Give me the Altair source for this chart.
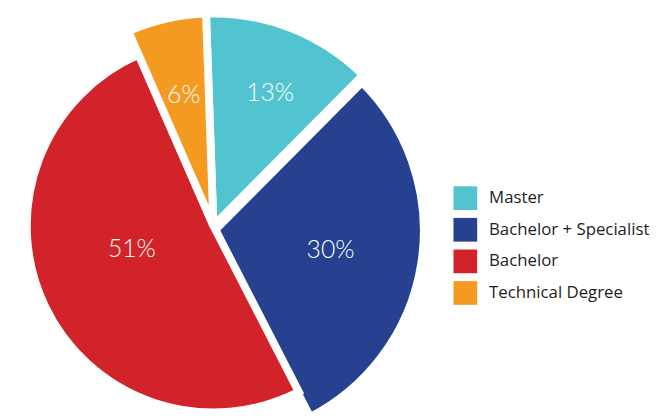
import altair as alt
import pandas as pd
import math

# ---- data ----
categories = ["Master", "Bachelor + Specialist", "Bachelor", "Technical Degree"]
shares = [13, 30, 51, 6]

# ---- style ----
colors = ["#52C4CF", "#26418F", "#D2232B", "#F49A20"]
gap = 8
slice_radius = {"Master": 215, "Bachelor + Specialist": 212, "Bachelor": 189, "Technical Degree": 215}
slice_shift = {"Master": (0, 0), "Bachelor + Specialist": (1, 5), "Bachelor": (0, 0), "Technical Degree": (0, 0)}
label_radius = {"Master": 146, "Bachelor + Specialist": 121, "Bachelor": 86, "Technical Degree": 136}
label_turn = {"Master": 0.03, "Bachelor + Specialist": 0.05, "Bachelor": 0.16, "Technical Degree": 0.0}
rot = -0.035

df = pd.DataFrame({"category": categories, "value": shares})

theta_scale = alt.Scale(domain=[0, 100], range=[rot, rot + 2 * math.pi])
color_scale = alt.Scale(domain=categories, range=colors)

legend = alt.Legend(
    title=None,
    orient="none",
    legendX=451,
    legendY=148,
    symbolType="square",
    symbolSize=576,
    symbolStrokeWidth=0,
    symbolOpacity=1,
    labelFont="Open Sans",
    labelFontSize=17,
    labelColor="#1d1d1b",
    labelOffset=12,
    rowPadding=8,
    labelLimit=300,
    padding=0,
)

base = alt.Chart(df).transform_window(
    cum="sum(value)", frame=[None, 0]
).transform_calculate(
    start="datum.cum - datum.value",
    mid="datum.cum - datum.value / 2",
    label="format(datum.value, 'd') + '%'",
)

layers = []
for cat in categories:
    sx, sy = slice_shift[cat]
    a = base.transform_filter(alt.datum.category == cat).mark_arc(
        radius=slice_radius[cat], stroke="white", strokeWidth=gap,
        xOffset=sx, yOffset=sy,
    ).encode(
        theta=alt.Theta("start:Q", scale=theta_scale),
        theta2="cum:Q",
        color=alt.Color("category:N", scale=color_scale, legend=legend),
    )
    layers.append(a)

for cat in categories:
    t = base.transform_filter(alt.datum.category == cat).mark_text(
        radius=label_radius[cat],
        thetaOffset=label_turn[cat],
        font="Lato",
        fontWeight=300,
        fontSize=25,
        color="white",
        align="center",
        baseline="middle",
    ).encode(
        theta=alt.Theta("mid:Q", scale=theta_scale),
        text="label:N",
    )
    layers.append(t)

chart = alt.layer(*layers).properties(
    width=416,
    height=376,
    autosize=alt.AutoSizeParams(type="none"),
    padding={"left": 0, "top": 30, "right": 237, "bottom": 0},
).configure_view(stroke=None)

chart.save("out.html", embed_options={"renderer": "svg", "actions": False})
